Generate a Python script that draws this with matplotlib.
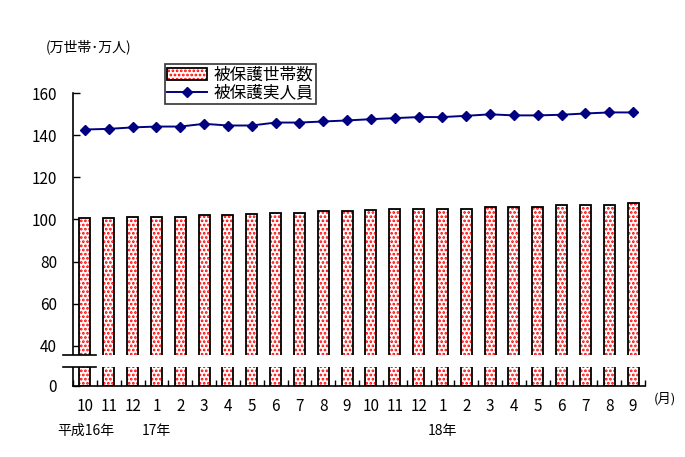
import numpy as np
import matplotlib.pyplot as plt
from matplotlib.transforms import blended_transform_factory
from matplotlib.patches import Rectangle

plt.rcParams['font.family'] = ['Noto Sans CJK JP', 'DejaVu Sans']

months = ['10', '11', '12', '1', '2', '3', '4', '5', '6', '7', '8', '9',
          '10', '11', '12', '1', '2', '3', '4', '5', '6', '7', '8', '9']
years = {0: '平成16年', 3: '17年', 15: '18年'}
households = [100.5, 100.5, 101.0, 101.4, 101.4, 101.9, 101.9, 102.4,
              103.3, 103.3, 103.8, 103.8, 104.3, 104.8, 104.8, 105.2,
              105.2, 105.7, 105.7, 105.7, 106.7, 107.1, 107.1, 107.6]
persons = [142.7, 143.0, 143.7, 144.1, 144.1, 145.4, 144.6, 144.6,
           146.0, 146.0, 146.5, 147.0, 147.6, 148.1, 148.6, 148.6,
           149.2, 149.9, 149.4, 149.4, 149.7, 150.3, 150.8, 150.8]
yticks = [40, 60, 80, 100, 120, 140, 160]

# the lower part of the axis is squeezed: "0" sits here in plot units
ZERO = 21.0
BREAK_LO, BREAK_HI = 30.0, 35.7

fig = plt.figure(figsize=(6.85, 4.57), dpi=100)
ax = fig.add_axes([0.1066, 0.1554, 0.835, 0.641])

x = np.arange(len(months))
heights = [h - ZERO for h in households]
plt.rcParams['hatch.linewidth'] = 1.3
fill = ax.bar(x, heights, 0.46, bottom=ZERO, color='white', edgecolor='red',
              hatch='....', linewidth=0, zorder=2)
outline = ax.bar(x, heights, 0.46, bottom=ZERO, fill=False, edgecolor='black',
                 linewidth=1.3, zorder=3)
line, = ax.plot(x, persons, color='#000080', marker='D', markersize=5.5,
                linewidth=1.4, zorder=4)

ax.set_xlim(-0.5, len(months) - 0.5)
ax.set_ylim(ZERO, 160)
ax.set_yticks([ZERO] + yticks)
ax.set_yticklabels(['0'] + [str(t) for t in yticks], fontsize=11)
ax.set_xticks(x)
ax.set_xticklabels(months, fontsize=11)
ax.set_xticks(np.arange(-0.5, len(months), 1), minor=True)
ax.tick_params(axis='x', which='major', length=0, pad=9)
ax.tick_params(axis='x', which='minor', direction='in', length=4, width=1)
ax.tick_params(axis='y', direction='in', length=5, width=1, pad=11.5)
for s in ['top', 'right']:
    ax.spines[s].set_visible(False)
for s in ['left', 'bottom']:
    ax.spines[s].set_linewidth(1.2)
    ax.spines[s].set_color('black')

xtr = blended_transform_factory(ax.transData, ax.transAxes)
for i, lab in years.items():
    ax.text(i if i else 0.05, -0.13, lab, transform=xtr,
            ha='center', va='top', fontsize=10)
ax.text(1.035, -0.045, '(月)', transform=ax.transAxes, ha='center',
        va='center', fontsize=9.5)
fig.text(0.13, 0.897, '(万世帯･万人)', ha='center', va='center', fontsize=10)

# axis break
tr = blended_transform_factory(ax.transAxes, ax.transData)
ax.add_patch(Rectangle((-0.02, BREAK_LO), 1.02, BREAK_HI - BREAK_LO,
                       transform=tr, facecolor='white', edgecolor='none',
                       clip_on=False, zorder=5))
for yb in (BREAK_LO, BREAK_HI):
    ax.plot([-0.0175, 0.04], [yb, yb], transform=tr, color='black',
            linewidth=1.2, clip_on=False, zorder=6)

leg = ax.legend([(fill[0], outline[0]), line], ['被保護世帯数', '被保護実人員'],
                loc='upper left', bbox_to_anchor=(0.16, 1.098), fontsize=12,
                frameon=True, fancybox=False, edgecolor='black',
                borderpad=0.15, labelspacing=0.05, handlelength=2.4,
                handletextpad=0.4, borderaxespad=0)
leg.get_frame().set_linewidth(1.2)

fig.savefig('out.png', dpi=100)
